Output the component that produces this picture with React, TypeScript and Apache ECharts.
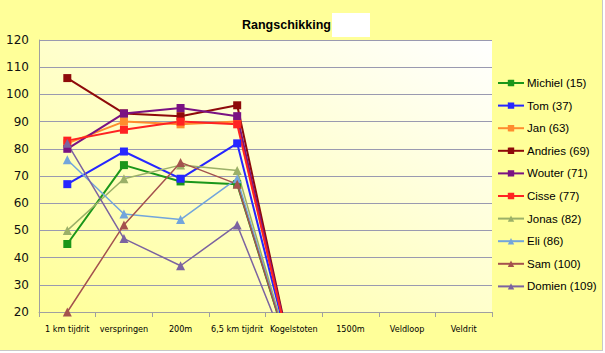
import React, { useEffect, useRef } from "react";
import * as echarts from "echarts";

const categories = ["1 km tijdrit", "verspringen", "200m", "6,5 km tijdrit", "Kogelstoten", "1500m", "Veldloop", "Veldrit"];
const names = ["Michiel (15)", "Tom (37)", "Jan (63)", "Andries (69)", "Wouter (71)", "Cisse (77)", "Jonas (82)", "Eli (86)", "Sam (100)", "Domien (109)"];
const michiel = [45, 74, 68, 67, 0];
const tom = [67, 79, 69, 82, 0];
const jan = [82, 90, 89, 90, 0];
const andries = [106, 93, 92, 96, 0];
const wouter = [80, 93, 95, 92, 0];
const cisse = [83, 87, 90, 89, 0];
const jonas = [50, 69, 74, 72, 0];
const eli = [76, 56, 54, 69, 0];
const sam = [20, 52, 75, 67, 0];
const domien = [82, 47, 37, 52, 0];
const seriesValues = [michiel, tom, jan, andries, wouter, cisse, jonas, eli, sam, domien];
const colors = ["#1A961A", "#2626FF", "#FF8C2E", "#8E0A0A", "#7A1283", "#FF2222", "#9BB068", "#72A5DC", "#A4524E", "#7C63A0"];
const symbols = ["rect", "rect", "rect", "rect", "rect", "rect", "triangle", "triangle", "triangle", "triangle"];
const yTicks = { min: 20, max: 120, interval: 10 };

export default function App() {
  const ref = useRef<HTMLDivElement>(null);
  useEffect(() => {
    if (!ref.current) return;
    const chart = echarts.init(ref.current, null, { renderer: "svg" });
    chart.setOption({
      animation: false,
      backgroundColor: "#FFFF99",
      textStyle: { fontFamily: "DejaVu Sans" },
      graphic: [
        {
          type: "text",
          left: 242,
          top: 18,
          style: { text: "Rangschikking", font: "bold 12.5px 'Liberation Sans'", fill: "#000" },
        },
        { type: "rect", shape: { x: 332, y: 13, width: 38, height: 24 }, style: { fill: "#FFFFFF" } },
      ],
      grid: {
        left: 39,
        top: 40,
        width: 453,
        height: 272,
        show: true,
        borderWidth: 0,
        backgroundColor: new echarts.graphic.LinearGradient(0, 1, 1, 0, [
          { offset: 0, color: "#FFFF99" },
          { offset: 1, color: "#FFFFFF" },
        ]),
      },
      legend: {
        orient: "vertical",
        left: 492,
        top: 71,
        itemWidth: 26,
        itemHeight: 8,
        itemGap: 8.6,
        textStyle: { fontSize: 11.5, lineHeight: 14, color: "#000", fontFamily: "Liberation Sans", padding: [0, 0, 0, -2] },
        data: names,
      },
      xAxis: {
        type: "category",
        data: categories,
        boundaryGap: true,
        axisLine: { lineStyle: { color: "#A0A0A0", width: 1 } },
        axisTick: { show: true, length: 5, lineStyle: { color: "#A0A0A0" } },
        axisLabel: { fontSize: 9, color: "#000", margin: 12, fontFamily: "DejaVu Sans Condensed", interval: 0 },
      },
      yAxis: {
        type: "value",
        min: yTicks.min,
        max: yTicks.max,
        interval: yTicks.interval,
        axisLine: { show: true, lineStyle: { color: "#A0A0A0" } },
        axisTick: { show: false },
        axisLabel: { fontSize: 12, color: "#111", margin: 10 },
        splitLine: { lineStyle: { color: "#9A9AB0", width: 1 } },
      },
      series: seriesValues.map((vals, i) => ({
        name: names[i],
        type: "line",
        data: vals,
        color: colors[i],
        symbol: symbols[i],
        symbolSize: symbols[i] === "rect" ? 8 : 9,
        showAllSymbol: true,
        clip: true,
        lineStyle: { width: i < 6 ? 2 : 1.5, color: colors[i] },
        itemStyle: { color: colors[i] },
      })),
    });
    return () => chart.dispose();
  }, []);
  return (
    <div style={{ position: "fixed", left: 0, top: 0, width: 605, height: 353, background: "#FFFFFF" }}>
      <div ref={ref} style={{ width: 602, height: 350, borderRight: "1px solid #C8C8C8", borderBottom: "1px solid #C8C8C8" }} />
    </div>
  );
}
